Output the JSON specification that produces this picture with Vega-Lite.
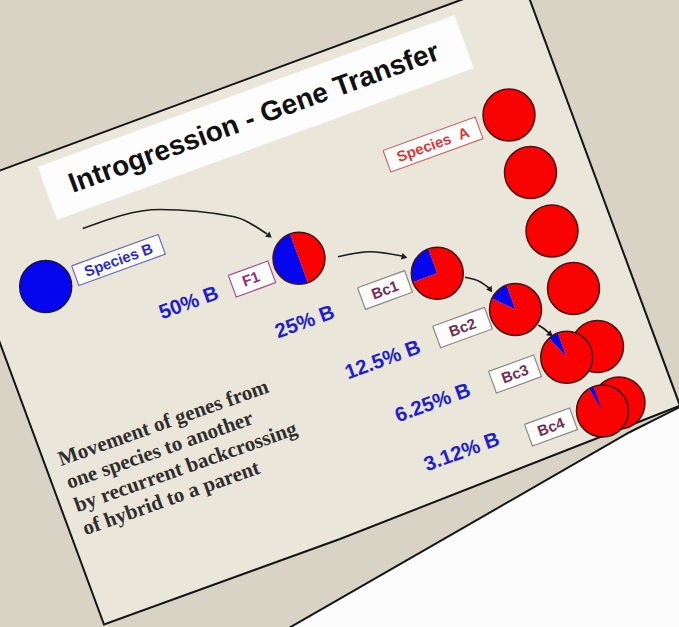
{
  "$schema": "https://vega.github.io/schema/vega-lite/v6.json",
  "width": 679,
  "height": 627,
  "autosize": {"type": "none"},
  "padding": 0,
  "background": "#d9d3c6",
  "config": {"view": {"stroke": null}},
  "datasets": {
    "polys": [
      {"poly": "paper", "role": "paper", "i": 0, "x": 275, "y": 636},
      {"poly": "paper", "role": "paper", "i": 1, "x": 630, "y": 432},
      {"poly": "paper", "role": "paper", "i": 2, "x": 700, "y": 397},
      {"poly": "paper", "role": "paper", "i": 3, "x": 700, "y": 660},
      {"poly": "paper", "role": "paper", "i": 4, "x": 275, "y": 660},
      {"poly": "paper", "role": "paper", "i": 5, "x": 275, "y": 636},
      {"poly": "slide", "role": "slide", "i": 0, "x": -56.1, "y": 191.3},
      {"poly": "slide", "role": "slide", "i": 1, "x": 521.6, "y": -22.5},
      {"poly": "slide", "role": "slide", "i": 2, "x": 680, "y": 405.7},
      {"poly": "slide", "role": "slide", "i": 3, "x": 340, "y": 539},
      {"poly": "slide", "role": "slide", "i": 4, "x": 104, "y": 624.5},
      {"poly": "slide", "role": "slide", "i": 5, "x": -56.1, "y": 191.3},
      {"poly": "title", "role": "title", "i": 0, "x": 38.0, "y": 167.0},
      {"poly": "title", "role": "title", "i": 1, "x": 454.3, "y": 15.4},
      {"poly": "title", "role": "title", "i": 2, "x": 473.5, "y": 68.0},
      {"poly": "title", "role": "title", "i": 3, "x": 57.2, "y": 219.6},
      {"poly": "title", "role": "title", "i": 4, "x": 38.0, "y": 167.0},
      {"poly": "boxSB", "role": "speciesB", "i": 0, "x": 71.68, "y": 265.86},
      {"poly": "boxSB", "role": "speciesB", "i": 1, "x": 158.14, "y": 234.40},
      {"poly": "boxSB", "role": "speciesB", "i": 2, "x": 165.32, "y": 254.14},
      {"poly": "boxSB", "role": "speciesB", "i": 3, "x": 78.86, "y": 285.60},
      {"poly": "boxSB", "role": "speciesB", "i": 4, "x": 71.68, "y": 265.86},
      {"poly": "boxF1", "role": "f1", "i": 0, "x": 228.34, "y": 275.37},
      {"poly": "boxF1", "role": "f1", "i": 1, "x": 267.80, "y": 261.01},
      {"poly": "boxF1", "role": "f1", "i": 2, "x": 275.66, "y": 282.63},
      {"poly": "boxF1", "role": "f1", "i": 3, "x": 236.20, "y": 296.99},
      {"poly": "boxF1", "role": "f1", "i": 4, "x": 228.34, "y": 275.37},
      {"poly": "boxSA", "role": "speciesA", "i": 0, "x": 383.02, "y": 150.45},
      {"poly": "boxSA", "role": "speciesA", "i": 1, "x": 475.12, "y": 116.93},
      {"poly": "boxSA", "role": "speciesA", "i": 2, "x": 482.98, "y": 138.55},
      {"poly": "boxSA", "role": "speciesA", "i": 3, "x": 390.88, "y": 172.07},
      {"poly": "boxSA", "role": "speciesA", "i": 4, "x": 383.02, "y": 150.45},
      {"poly": "boxBc1", "role": "bc", "i": 0, "x": 357.58, "y": 287.74},
      {"poly": "boxBc1", "role": "bc", "i": 1, "x": 404.56, "y": 270.64},
      {"poly": "boxBc1", "role": "bc", "i": 2, "x": 412.42, "y": 292.26},
      {"poly": "boxBc1", "role": "bc", "i": 3, "x": 365.44, "y": 309.36},
      {"poly": "boxBc1", "role": "bc", "i": 4, "x": 357.58, "y": 287.74},
      {"poly": "boxBc2", "role": "bc", "i": 0, "x": 432.73, "y": 326.20},
      {"poly": "boxBc2", "role": "bc", "i": 1, "x": 484.41, "y": 307.38},
      {"poly": "boxBc2", "role": "bc", "i": 2, "x": 492.27, "y": 329.00},
      {"poly": "boxBc2", "role": "bc", "i": 3, "x": 440.59, "y": 347.82},
      {"poly": "boxBc2", "role": "bc", "i": 4, "x": 432.73, "y": 326.20},
      {"poly": "boxBc3", "role": "bc", "i": 0, "x": 488.52, "y": 371.40},
      {"poly": "boxBc3", "role": "bc", "i": 1, "x": 533.62, "y": 354.98},
      {"poly": "boxBc3", "role": "bc", "i": 2, "x": 541.48, "y": 376.60},
      {"poly": "boxBc3", "role": "bc", "i": 3, "x": 496.38, "y": 393.02},
      {"poly": "boxBc3", "role": "bc", "i": 4, "x": 488.52, "y": 371.40},
      {"poly": "boxBc4", "role": "bc", "i": 0, "x": 524.52, "y": 424.40},
      {"poly": "boxBc4", "role": "bc", "i": 1, "x": 569.62, "y": 407.98},
      {"poly": "boxBc4", "role": "bc", "i": 2, "x": 577.48, "y": 429.60},
      {"poly": "boxBc4", "role": "bc", "i": 3, "x": 532.38, "y": 446.02},
      {"poly": "boxBc4", "role": "bc", "i": 4, "x": 524.52, "y": 424.40}
    ],
    "texts": [
      {"group": "title", "role": "title", "text": "Introgression - Gene Transfer", "x": 257, "y": 126},
      {"group": "label", "role": "speciesB", "text": "Species B", "x": 118.5, "y": 260},
      {"group": "label", "role": "f1", "text": "F1", "x": 251, "y": 279},
      {"group": "label", "role": "speciesA", "text": "Species\u00a0\u00a0A", "x": 433, "y": 144.5},
      {"group": "label", "role": "bc", "text": "Bc1", "x": 385, "y": 290},
      {"group": "label", "role": "bc", "text": "Bc2", "x": 462.5, "y": 327.6},
      {"group": "label", "role": "bc", "text": "Bc3", "x": 515, "y": 374},
      {"group": "label", "role": "bc", "text": "Bc4", "x": 551, "y": 427},
      {"group": "pct", "role": "pct", "text": "50% B", "x": 191, "y": 309},
      {"group": "pct", "role": "pct", "text": "25% B", "x": 307, "y": 328},
      {"group": "pct", "role": "pct", "text": "12.5% B", "x": 385, "y": 366},
      {"group": "pct", "role": "pct", "text": "6.25% B", "x": 435, "y": 409},
      {"group": "pct", "role": "pct", "text": "3.12% B", "x": 464, "y": 458},
      {"group": "para", "role": "para", "text": "Movement of genes from\none species to another\nby recurrent backcrossing\nof hybrid to a parent", "x": 61, "y": 466}
    ],
    "arrows": [
      {"arrow": "a1", "i": 0, "x": 82.7, "y": 228.5},
      {"arrow": "a1", "i": 1, "x": 160, "y": 209.5},
      {"arrow": "a1", "i": 2, "x": 233, "y": 216.5},
      {"arrow": "a1", "i": 3, "x": 267, "y": 234},
      {"arrow": "a2", "i": 0, "x": 338, "y": 256.7},
      {"arrow": "a2", "i": 1, "x": 370, "y": 251.7},
      {"arrow": "a2", "i": 2, "x": 402, "y": 256},
      {"arrow": "a3", "i": 0, "x": 465, "y": 277.3},
      {"arrow": "a3", "i": 1, "x": 480, "y": 281.7},
      {"arrow": "a3", "i": 2, "x": 489, "y": 288},
      {"arrow": "a4", "i": 0, "x": 538.3, "y": 325},
      {"arrow": "a4", "i": 1, "x": 545, "y": 329.5},
      {"arrow": "a4", "i": 2, "x": 549, "y": 333}
    ],
    "heads": [
      {"arrow": "a1", "x": 269.5, "y": 236, "dir": 130},
      {"arrow": "a2", "x": 404.5, "y": 257, "dir": 105},
      {"arrow": "a3", "x": 490.5, "y": 290, "dir": 145},
      {"arrow": "a4", "x": 550.5, "y": 334.5, "dir": 130}
    ],
    "pies": [
      {"name": "Species B", "kind": "pure", "part": "B", "x": 45.7, "y": 286.5, "a0": 0, "a1": 360},
      {"name": "A1", "kind": "pure", "part": "A", "x": 509, "y": 115, "a0": 0, "a1": 360},
      {"name": "A2", "kind": "pure", "part": "A", "x": 530.5, "y": 172.5, "a0": 0, "a1": 360},
      {"name": "A3", "kind": "pure", "part": "A", "x": 552, "y": 231, "a0": 0, "a1": 360},
      {"name": "A4", "kind": "pure", "part": "A", "x": 573.5, "y": 288.5, "a0": 0, "a1": 360},
      {"name": "A5", "kind": "pure", "part": "A", "x": 597.5, "y": 346.5, "a0": 0, "a1": 360},
      {"name": "A6", "kind": "pure", "part": "A", "x": 619, "y": 403, "a0": 0, "a1": 360},
      {"name": "F1", "kind": "hybrid", "part": "B", "x": 299, "y": 258.3, "a0": 160, "a1": 340},
      {"name": "F1", "kind": "hybrid", "part": "A", "x": 299, "y": 258.3, "a0": 340, "a1": 520},
      {"name": "Bc1", "kind": "hybrid", "part": "B", "x": 437.3, "y": 273.3, "a0": 250, "a1": 340},
      {"name": "Bc1", "kind": "hybrid", "part": "A", "x": 437.3, "y": 273.3, "a0": 340, "a1": 610},
      {"name": "Bc2", "kind": "hybrid", "part": "B", "x": 515.5, "y": 309.5, "a0": 295, "a1": 340},
      {"name": "Bc2", "kind": "hybrid", "part": "A", "x": 515.5, "y": 309.5, "a0": 340, "a1": 655},
      {"name": "Bc3", "kind": "hybrid", "part": "B", "x": 566.7, "y": 357.3, "a0": 317.5, "a1": 340},
      {"name": "Bc3", "kind": "hybrid", "part": "A", "x": 566.7, "y": 357.3, "a0": 340, "a1": 677.5},
      {"name": "Bc4", "kind": "hybrid", "part": "B", "x": 602.5, "y": 411, "a0": 328.75, "a1": 340},
      {"name": "Bc4", "kind": "hybrid", "part": "A", "x": 602.5, "y": 411, "a0": 340, "a1": 688.75}
    ]
  },
  "encoding": {
    "x": {"field": "x", "type": "quantitative", "scale": {"domain": [0, 679], "nice": false, "zero": false}, "axis": null},
    "y": {"field": "y", "type": "quantitative", "scale": {"domain": [0, 627], "nice": false, "zero": false, "reverse": true}, "axis": null}
  },
  "layer": [
    {
      "data": {"name": "polys"},
      "transform": [{"filter": "datum.poly === 'paper'"}],
      "mark": {"type": "line", "fill": "#fcfcfc", "stroke": "#151515", "strokeWidth": 2, "strokeJoin": "miter"},
      "encoding": {"order": {"field": "i", "type": "quantitative"}}
    },
    {
      "data": {"name": "polys"},
      "transform": [{"filter": "datum.poly === 'slide'"}],
      "mark": {"type": "line", "fill": "#ebe6da", "stroke": "#151515", "strokeWidth": 2, "strokeJoin": "miter"},
      "encoding": {"order": {"field": "i", "type": "quantitative"}}
    },
    {
      "data": {"name": "polys"},
      "transform": [{"filter": "datum.poly === 'title'"}],
      "mark": {"type": "line", "fill": "#fdfdfd", "stroke": "#fdfdfd", "strokeWidth": 0.5},
      "encoding": {"order": {"field": "i", "type": "quantitative"}}
    },
    {
      "data": {"name": "polys"},
      "transform": [{"filter": "indexof(['speciesB','f1','speciesA','bc'], datum.role) >= 0"}],
      "mark": {"type": "line", "fill": "#fcfcfa", "strokeWidth": 1.2, "strokeJoin": "miter"},
      "encoding": {
        "detail": {"field": "poly"},
        "order": {"field": "i", "type": "quantitative"},
        "stroke": {"field": "role", "type": "nominal", "scale": {"domain": ["speciesB", "f1", "speciesA", "bc"], "range": ["#6a6ab8", "#a0509a", "#d06a6a", "#8c8888"]}, "legend": null}
      }
    },
    {
      "data": {"name": "texts"},
      "transform": [{"filter": "datum.group === 'title'"}],
      "mark": {"type": "text", "angle": 340, "align": "center", "baseline": "alphabetic", "font": "Liberation Sans", "fontWeight": "bold", "fontSize": 28, "color": "#111111"},
      "encoding": {"text": {"field": "text"}}
    },
    {
      "data": {"name": "texts"},
      "transform": [{"filter": "datum.group === 'label'"}],
      "mark": {"type": "text", "angle": 340, "align": "center", "baseline": "middle", "font": "Liberation Sans", "fontWeight": "bold", "fontSize": 15},
      "encoding": {
        "text": {"field": "text"},
        "color": {"field": "role", "type": "nominal", "scale": {"domain": ["speciesB", "f1", "speciesA", "bc"], "range": ["#2d2dbd", "#8b2d84", "#d43a3a", "#6e2f50"]}, "legend": null}
      }
    },
    {
      "data": {"name": "texts"},
      "transform": [{"filter": "datum.group === 'pct'"}],
      "mark": {"type": "text", "angle": 340, "align": "center", "baseline": "alphabetic", "font": "Liberation Sans", "fontWeight": "bold", "fontSize": 20.5, "color": "#2020c8"},
      "encoding": {"text": {"field": "text"}}
    },
    {
      "data": {"name": "texts"},
      "transform": [{"filter": "datum.group === 'para'"}],
      "mark": {"type": "text", "angle": 340.5, "align": "left", "baseline": "alphabetic", "font": "Liberation Serif", "fontWeight": "bold", "fontSize": 21, "lineHeight": 24.5, "lineBreak": "\n", "color": "#2e2e2e"},
      "encoding": {"text": {"field": "text"}}
    },
    {
      "data": {"name": "pies"},
      "transform": [{"filter": "datum.kind === 'pure'"}],
      "mark": {"type": "arc", "outerRadius": 26, "strokeWidth": 0},
      "encoding": {
        "theta": {"field": "a0", "type": "quantitative", "scale": {"domain": [0, 360], "range": [0, 6.283185307]}, "stack": null},
        "theta2": {"field": "a1"},
        "fill": {"field": "part", "type": "nominal", "scale": {"domain": ["A", "B"], "range": ["#f80202", "#0505ee"]}, "legend": null}
      }
    },
    {
      "data": {"name": "pies"},
      "transform": [{"filter": "datum.kind === 'pure'"}],
      "mark": {"type": "point", "shape": "circle", "filled": false, "size": 2704, "strokeWidth": 1.5, "opacity": 1},
      "encoding": {
        "stroke": {"field": "part", "type": "nominal", "scale": {"domain": ["A", "B"], "range": ["#4a1414", "#15154a"]}, "legend": null}
      }
    },
    {
      "data": {"name": "pies"},
      "transform": [{"filter": "datum.kind === 'hybrid'"}],
      "mark": {"type": "arc", "outerRadius": 26, "strokeWidth": 0},
      "encoding": {
        "theta": {"field": "a0", "type": "quantitative", "scale": {"domain": [0, 360], "range": [0, 6.283185307]}, "stack": null},
        "theta2": {"field": "a1"},
        "fill": {"field": "part", "type": "nominal", "scale": {"domain": ["A", "B"], "range": ["#f80202", "#0505ee"]}, "legend": null}
      }
    },
    {
      "data": {"name": "pies"},
      "transform": [{"filter": "datum.kind === 'hybrid' && datum.part === 'A'"}],
      "mark": {"type": "point", "shape": "circle", "filled": false, "size": 2704, "stroke": "#3f1616", "strokeWidth": 1.5, "opacity": 1}
    },
    {
      "data": {"name": "arrows"},
      "mark": {"type": "line", "interpolate": "monotone", "stroke": "#1e1e1e", "strokeWidth": 1.6},
      "encoding": {
        "detail": {"field": "arrow"},
        "order": {"field": "i", "type": "quantitative"}
      }
    },
    {
      "data": {"name": "heads"},
      "mark": {"type": "point", "shape": "triangle-up", "filled": true, "size": 45, "color": "#1e1e1e", "opacity": 1},
      "encoding": {"angle": {"field": "dir", "type": "quantitative", "scale": null}}
    }
  ],
  "resolve": {"scale": {"color": "independent", "stroke": "independent", "fill": "independent"}}
}
